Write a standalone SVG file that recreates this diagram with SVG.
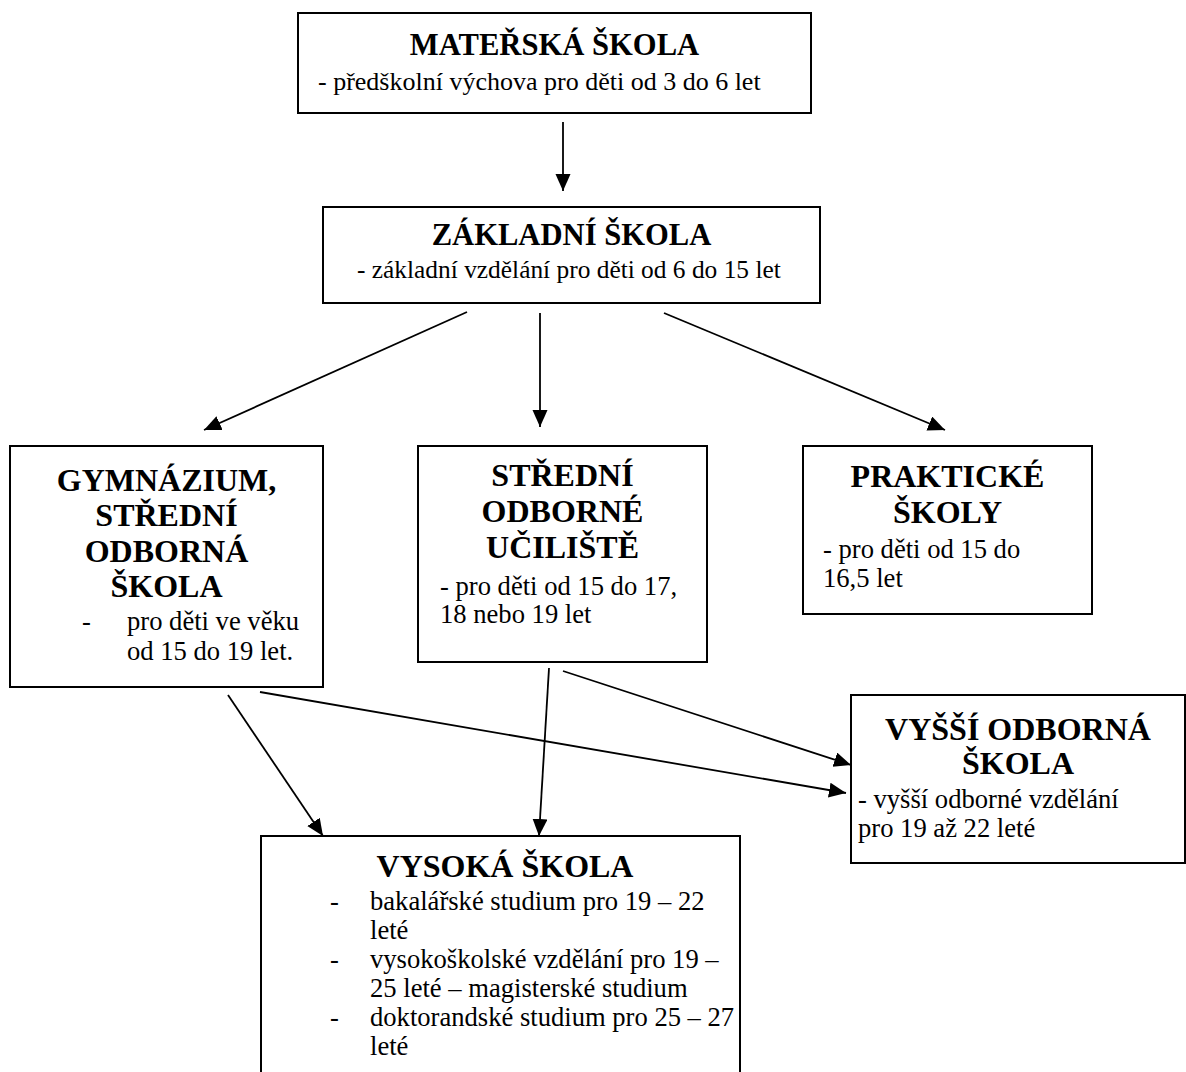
<svg xmlns="http://www.w3.org/2000/svg" width="1186" height="1072" viewBox="0 0 1186 1072">
<defs>
<marker id="ah" markerUnits="userSpaceOnUse" markerWidth="20" markerHeight="16" refX="17" refY="7.5" orient="auto">
<path d="M0,0 L17,7.5 L0,15 Z" fill="#000"/>
</marker>
<style>
.box{fill:#fff;stroke:#000;stroke-width:2}
.t{font-family:"Liberation Serif","Times New Roman",serif;font-weight:bold;font-size:32px;text-anchor:middle;fill:#000}
.t2{font-family:"Liberation Serif","Times New Roman",serif;font-weight:bold;font-size:30.6px;text-anchor:middle;fill:#000}
.s{font-family:"Liberation Serif","Times New Roman",serif;font-size:26px;fill:#000}
.s2{font-family:"Liberation Serif","Times New Roman",serif;font-size:26.6px;fill:#000}
.c{stroke:#000;stroke-width:1.8;fill:none;marker-end:url(#ah)}
</style>
</defs>
<rect width="1186" height="1072" fill="#fff"/>
<g id="connectors">
<line class="c" x1="563" y1="122" x2="563" y2="191"/>
<line class="c" x1="467" y1="312" x2="204" y2="430"/>
<line class="c" x1="540" y1="313" x2="540" y2="427"/>
<line class="c" x1="664" y1="313" x2="945" y2="430"/>
<line class="c" x1="228" y1="695" x2="323" y2="836"/>
<line class="c" x1="549" y1="668" x2="539" y2="836"/>
<line class="c" x1="260" y1="692" x2="846" y2="793"/>
<line class="c" x1="563" y1="671" x2="851" y2="765"/>
</g>
<g id="materska">
<rect class="box" x="298" y="13" width="513" height="100"/>
<text class="t2" x="554.5" y="55">MATEŘSKÁ ŠKOLA</text>
<text class="s" x="318" y="90">- předškolní výchova pro děti od 3 do 6 let</text>
</g>
<g id="zakladni">
<rect class="box" x="323" y="207" width="497" height="96"/>
<text class="t2" x="571.5" y="245">ZÁKLADNÍ ŠKOLA</text>
<text class="s" x="357" y="278" style="font-size:25.4px">- základní vzdělání pro děti od 6 do 15 let</text>
</g>
<g id="gymnazium">
<rect class="box" x="10" y="446" width="313" height="241"/>
<text class="t" x="166.5" y="491">GYMNÁZIUM,</text>
<text class="t" x="166.5" y="526">STŘEDNÍ</text>
<text class="t" x="166.5" y="562">ODBORNÁ</text>
<text class="t" x="166.5" y="597">ŠKOLA</text>
<text class="s2" x="82" y="630">-</text>
<text class="s2" x="127" y="630">pro děti ve věku</text>
<text class="s2" x="127" y="660">od 15 do 19 let.</text>
</g>
<g id="sou">
<rect class="box" x="418" y="446" width="289" height="216"/>
<text class="t" x="562.5" y="486">STŘEDNÍ</text>
<text class="t" x="562.5" y="522">ODBORNÉ</text>
<text class="t" x="562.5" y="558">UČILIŠTĚ</text>
<text class="s2" x="440" y="595">- pro děti od 15 do 17,</text>
<text class="s2" x="440" y="623">18 nebo 19 let</text>
</g>
<g id="prakticke">
<rect class="box" x="803" y="446" width="289" height="168"/>
<text class="t" x="947.5" y="487">PRAKTICKÉ</text>
<text class="t" x="947.5" y="523">ŠKOLY</text>
<text class="s2" x="823" y="558">- pro děti od 15 do</text>
<text class="s2" x="823" y="587">16,5 let</text>
</g>
<g id="vos">
<rect class="box" x="851" y="695" width="334" height="168"/>
<text class="t" x="1018" y="740">VYŠŠÍ ODBORNÁ</text>
<text class="t" x="1018" y="774">ŠKOLA</text>
<text class="s2" x="858" y="808">- vyšší odborné vzdělání</text>
<text class="s2" x="858" y="837">pro 19 až 22 leté</text>
</g>
<g id="vysoka">
<rect class="box" x="261" y="836" width="479" height="250"/>
<text class="t" x="505" y="877">VYSOKÁ ŠKOLA</text>
<text class="s2" x="330" y="910">-</text>
<text class="s2" x="370" y="910">bakalářské studium pro 19 – 22</text>
<text class="s2" x="370" y="939">leté</text>
<text class="s2" x="330" y="968">-</text>
<text class="s2" x="370" y="968">vysokoškolské vzdělání pro 19 –</text>
<text class="s2" x="370" y="997">25 leté – magisterské studium</text>
<text class="s2" x="330" y="1026">-</text>
<text class="s2" x="370" y="1026">doktorandské studium pro 25 – 27</text>
<text class="s2" x="370" y="1055">leté</text>
</g>
</svg>
